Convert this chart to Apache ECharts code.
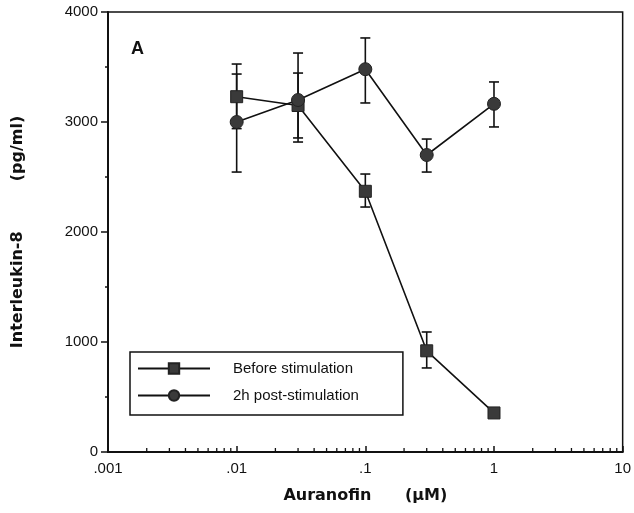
<!DOCTYPE html>
<html>
<head>
<meta charset="utf-8">
<script src="https://cdn.jsdelivr.net/npm/echarts@6/dist/echarts.min.js"></script>
<style>html,body{margin:0;padding:0;background:#fff}#c{width:634px;height:513px}</style>
</head>
<body>
<div id="c"></div>
<script>
var doses = [0.01, 0.03, 0.1, 0.3, 1];
var beforeVals = [3230, 3150, 2370, 920, 355];
var beforeHigh = [3527, 3445, 2527, 1091, null];
var beforeLow = [2940, 2855, 2227, 764, null];
var postVals = [3000, 3200, 3480, 2700, 3165];
var postHigh = [3436, 3627, 3764, 2845, 3364];
var postLow = [2545, 2818, 3173, 2545, 2955];
var xTickLabels = {0.001: '.001', 0.01: '.01', 0.1: '.1', 1: '1', 10: '10'};
var minorXTicks = [];
[0.001, 0.01, 0.1, 1].forEach(function (d) {
  for (var k = 2; k <= 9; k++) minorXTicks.push(+(d * k).toPrecision(3));
});

var chart = echarts.init(document.getElementById('c'));
var font = '"Liberation Sans", Arial, Helvetica, sans-serif';
var titleFont = '"DejaVu Sans", "Liberation Sans", sans-serif';

function pairs(xs, ys) { return xs.map(function (x, i) { return [x, ys[i]]; }); }
function errData(lo, hi) {
  var out = [];
  doses.forEach(function (x, i) { if (lo[i] != null) out.push([x, lo[i], hi[i]]); });
  return out;
}
function errRender(params, api) {
  var x = api.value(0);
  var p1 = api.coord([x, api.value(1)]);
  var p2 = api.coord([x, api.value(2)]);
  var w = 5;
  var st = {stroke: '#111', lineWidth: 1.6};
  return {type: 'group', children: [
    {type: 'line', shape: {x1: p1[0], y1: p1[1], x2: p2[0], y2: p2[1]}, style: st},
    {type: 'line', shape: {x1: p1[0] - w, y1: p1[1], x2: p1[0] + w, y2: p1[1]}, style: st},
    {type: 'line', shape: {x1: p2[0] - w, y1: p2[1], x2: p2[0] + w, y2: p2[1]}, style: st}
  ]};
}

chart.setOption({
  animation: false,
  grid: {left: 108, right: 11, top: 12, bottom: 61, show: true, borderColor: '#111', borderWidth: 1.5},
  legend: {
    data: ['Before stimulation', '2h post-stimulation'],
    orient: 'vertical', left: 130, top: 352,
    itemWidth: 72, itemHeight: 13, itemGap: 12,
    padding: [9, 44, 12, 7],
    borderColor: '#111', borderWidth: 1.5,
    textStyle: {fontFamily: font, fontSize: 15, color: '#111', padding: [0, 0, 0, 18]}
  },
  graphic: [{type: 'text', left: 131, top: 40, style: {text: 'A', font: 'bold 18px ' + font, fill: '#111'}}],
  xAxis: {
    type: 'log', min: 0.001, max: 10, logBase: 10,
    name: 'Auranofin      (\u00b5M)', nameLocation: 'middle', nameGap: 36,
    nameTextStyle: {fontFamily: titleFont, fontWeight: 'bold', fontSize: 16, color: '#111'},
    axisLine: {lineStyle: {color: '#111', width: 2}},
    axisTick: {inside: true, length: 6, lineStyle: {color: '#111', width: 1.5}},
    axisLabel: {fontFamily: font, fontSize: 15, color: '#111', margin: 9,
      formatter: function (v) { var k = Object.keys(xTickLabels).find(function (t) { return Math.abs(+t - v) / v < 1e-6; }); return k ? xTickLabels[k] : ''; }},
    splitLine: {show: false}
  },
  yAxis: {
    type: 'value', min: 0, max: 4000, interval: 1000,
    name: 'Interleukin-8         (pg/ml)', nameLocation: 'middle', nameGap: 82, nameRotate: 90,
    nameTextStyle: {fontFamily: titleFont, fontWeight: 'bold', fontSize: 16, color: '#111'},
    axisLine: {show: true, lineStyle: {color: '#111', width: 2}},
    axisTick: {show: true, length: 7, lineStyle: {color: '#111', width: 1.5}},
    minorTick: {show: true, splitNumber: 2, length: 3, lineStyle: {color: '#111', width: 1.5}},
    axisLabel: {fontFamily: font, fontSize: 15, color: '#111', margin: 10, formatter: function (v) { return String(v); }},
    splitLine: {show: false}
  },
  series: [
    {type: 'custom', name: 'minorTicks', silent: true, data: minorXTicks.map(function (v) { return [v, 0]; }),
      renderItem: function (params, api) {
        var p = api.coord([api.value(0), 0]);
        return {type: 'line', shape: {x1: p[0], y1: p[1], x2: p[0], y2: p[1] - 4}, style: {stroke: '#111', lineWidth: 1.3}};
      }, z: 1},
    {type: 'custom', name: 'errBefore', silent: true, data: errData(beforeLow, beforeHigh), renderItem: errRender, z: 2},
    {type: 'custom', name: 'errPost', silent: true, data: errData(postLow, postHigh), renderItem: errRender, z: 2},
    {type: 'line', name: 'Before stimulation', data: pairs(doses, beforeVals),
      symbol: 'rect', symbolSize: 12, lineStyle: {color: '#111', width: 1.6},
      itemStyle: {color: '#3a3a3a', borderColor: '#222', borderWidth: 1}, z: 3},
    {type: 'line', name: '2h post-stimulation', data: pairs(doses, postVals),
      symbol: 'circle', symbolSize: 13, lineStyle: {color: '#111', width: 1.6},
      itemStyle: {color: '#3a3a3a', borderColor: '#222', borderWidth: 1}, z: 3}
  ]
});
</script>
</body>
</html>
